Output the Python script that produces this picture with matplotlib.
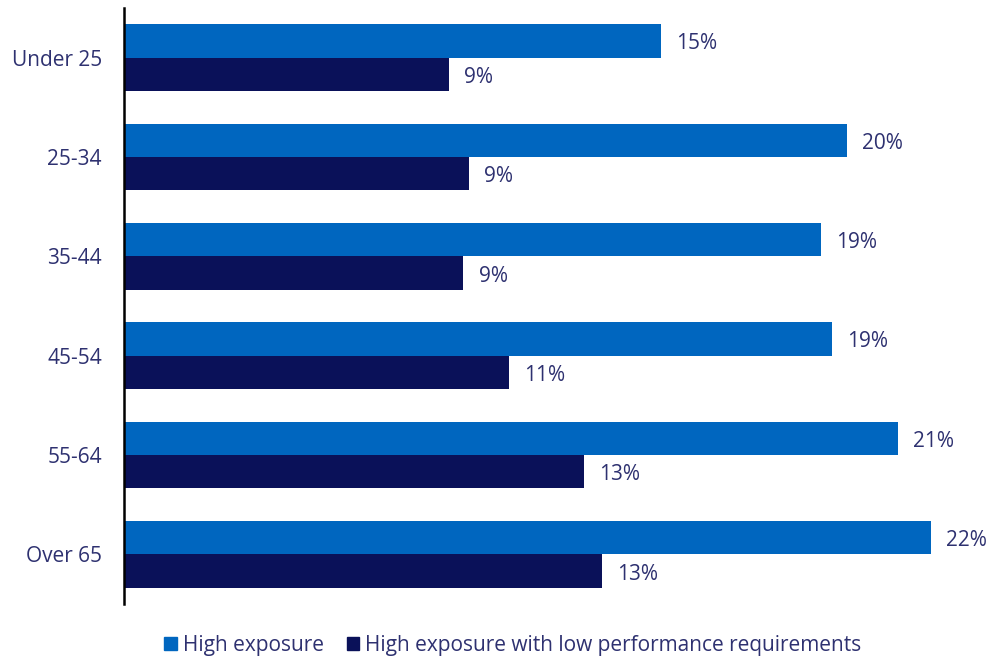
import matplotlib
matplotlib.use("Agg")
import matplotlib.pyplot as plt
import numpy as np
from matplotlib.patches import Patch

# Data (percent)
categories = ["Under 25", "25-34", "35-44", "45-54", "55-64", "Over 65"]
high_exposure = [14.7, 19.8, 19.1, 19.4, 21.2, 22.1]
high_low_perf = [8.9, 9.45, 9.3, 10.55, 12.6, 13.1]
series_names = ["High exposure", "High exposure with low performance requirements"]

blue = "#0066BF"
navy = "#0A1159"
text_col = "#2E3170"

plt.rcParams['font.family'] = ['Open Sans', 'DejaVu Sans']
fs = 15

fig = plt.figure(figsize=(9.92, 6.58), dpi=100)
left, right = 124 / 992, 1.0
bottom, top = 1 - 604 / 658, 1 - 8 / 658
ax = fig.add_axes([left, bottom, right - left, top - bottom])

y = np.arange(len(categories))
h = 0.337
ax.barh(y - h / 2, high_exposure, height=h, color=blue, label=series_names[0])
ax.barh(y + h / 2, high_low_perf, height=h, color=navy, label=series_names[1])

# value labels, sitting a touch below bar centre like the original
for yi, v in zip(y, high_exposure):
    ax.text(v + 0.42, yi - h / 2 + 0.03, f"{v:.0f}%", va="center", ha="left",
            fontsize=fs, color=text_col)
for yi, v in zip(y, high_low_perf):
    ax.text(v + 0.42, yi + h / 2 + 0.03, f"{v:.0f}%", va="center", ha="left",
            fontsize=fs, color=text_col)

ax_w_px = (right - left) * 992
ax.set_xlim(0, ax_w_px / 36.5)
ax.set_ylim(len(categories) - 0.5, -0.5)
ax.set_yticks(y)
ax.set_yticklabels(categories, fontsize=fs, color=text_col)
ax.tick_params(axis="y", length=0, pad=16)
ax.set_xticks([])
for s in ["top", "right", "bottom"]:
    ax.spines[s].set_visible(False)
ax.spines["left"].set_linewidth(1.8)
ax.spines["left"].set_color("black")

handles = [Patch(color=blue), Patch(color=navy)]
fig.legend(handles, series_names, loc="center", bbox_to_anchor=(0.517, 1 - 645 / 658),
           ncol=2, frameon=False, fontsize=fs, labelcolor=text_col,
           handlelength=0.6, handleheight=0.6, handletextpad=0.3, columnspacing=1.1)

fig.savefig("out.png", dpi=100)
